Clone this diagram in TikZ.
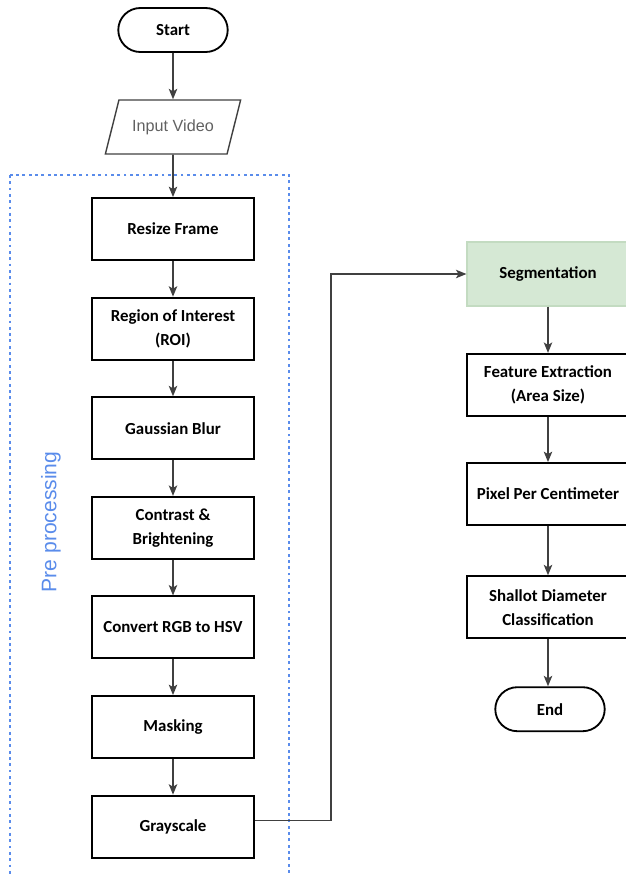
\documentclass[tikz,border=0pt]{standalone}
\usepackage{fontspec}
\setmainfont{Carlito}
\newfontfamily\arialfont{Liberation Sans}
\usetikzlibrary{arrows.meta,shapes.geometric,shapes.misc,positioning}
\definecolor{segfill}{HTML}{D5E8D4}
\definecolor{segline}{HTML}{C3DBC1}
\definecolor{preblue}{HTML}{5A8CEB}
\definecolor{linegray}{HTML}{404040}
\begin{document}
\begin{tikzpicture}[>={Stealth[length=0.26cm,width=0.21cm,inset=0.06cm]},
  node distance=2.49cm, align=center,
  every node/.style={font=\fontsize{12}{17}\selectfont\bfseries},
  terminal/.style={draw, line width=1.3pt, rounded rectangle, minimum width=2.97cm, minimum height=1.1cm},
  process/.style={draw, line width=1.3pt, minimum width=4.05cm, minimum height=1.55cm},
  flow/.style={->, draw=linegray, line width=1.1pt}]

\clip (0,0) rectangle (15.65,-21.9);

% Pre processing frame
\draw[preblue, line width=1.1pt, dash pattern=on 2pt off 2.5pt] (0.25,-4.375) rectangle (7.225,-22.5);
\node (pre) at (1.275,-13.05) [rotate=90, font=\arialfont\fontsize{15}{18}\selectfont, text=preblue] {Pre processing};

% Left column
\node (start) at (4.325,-0.75) [terminal] {Start};
\node (input) [below of=start, node distance=2.425cm, draw=black!75, line width=1pt, trapezium, trapezium stretches=true, trapezium left angle=65, trapezium right angle=115, minimum width=3.4cm, minimum height=1.35cm, font=\arialfont\fontsize{11.5}{14}\selectfont, text=black!62] {Input Video};
\node (resize) [below of=input, node distance=2.55cm, process] {Resize Frame};
\node (roi) [below of=resize, process] {Region of Interest \\ (ROI)};
\node (blur) [below of=roi, process] {Gaussian Blur};
\node (contrast) [below of=blur, process] {Contrast \& \\ Brightening};
\node (hsv) [below of=contrast, process] {Convert RGB to HSV};
\node (mask) [below of=hsv, process] {Masking};
\node (gray) [below of=mask, process] {Grayscale};

% Right column
\node (seg) at (13.7,-6.85) [process, fill=segfill, draw=segline, line width=0.8pt, minimum height=1.6cm] {Segmentation};
\node (feat) [below of=seg, node distance=2.77cm, process] {Feature Extraction \\ (Area Size)};
\node (ppc) [below of=feat, node distance=2.73cm, process] {Pixel Per Centimeter};
\node (shallot) [below of=ppc, node distance=2.83cm, process] {Shallot Diameter \\ Classification};
\node (end) [below of=shallot, node distance=2.55cm, xshift=0.05cm, terminal] {End};

% Arrows
\draw[flow] (start) -- (input);
\draw[flow] (input) -- (resize);
\draw[flow] (resize) -- (roi);
\draw[flow] (roi) -- (blur);
\draw[flow] (blur) -- (contrast);
\draw[flow] (contrast) -- (hsv);
\draw[flow] (hsv) -- (mask);
\draw[flow] (mask) -- (gray);
\draw[flow, line width=0.9pt] ([yshift=0.15cm]gray.east) -- ++(1.9cm,0) |- (seg.west);
\draw[flow] (seg) -- (feat);
\draw[flow] (feat) -- (ppc);
\draw[flow] (ppc) -- (shallot);
\draw[flow] (shallot.south) -- (shallot.south |- end.north);

\end{tikzpicture}
\end{document}
